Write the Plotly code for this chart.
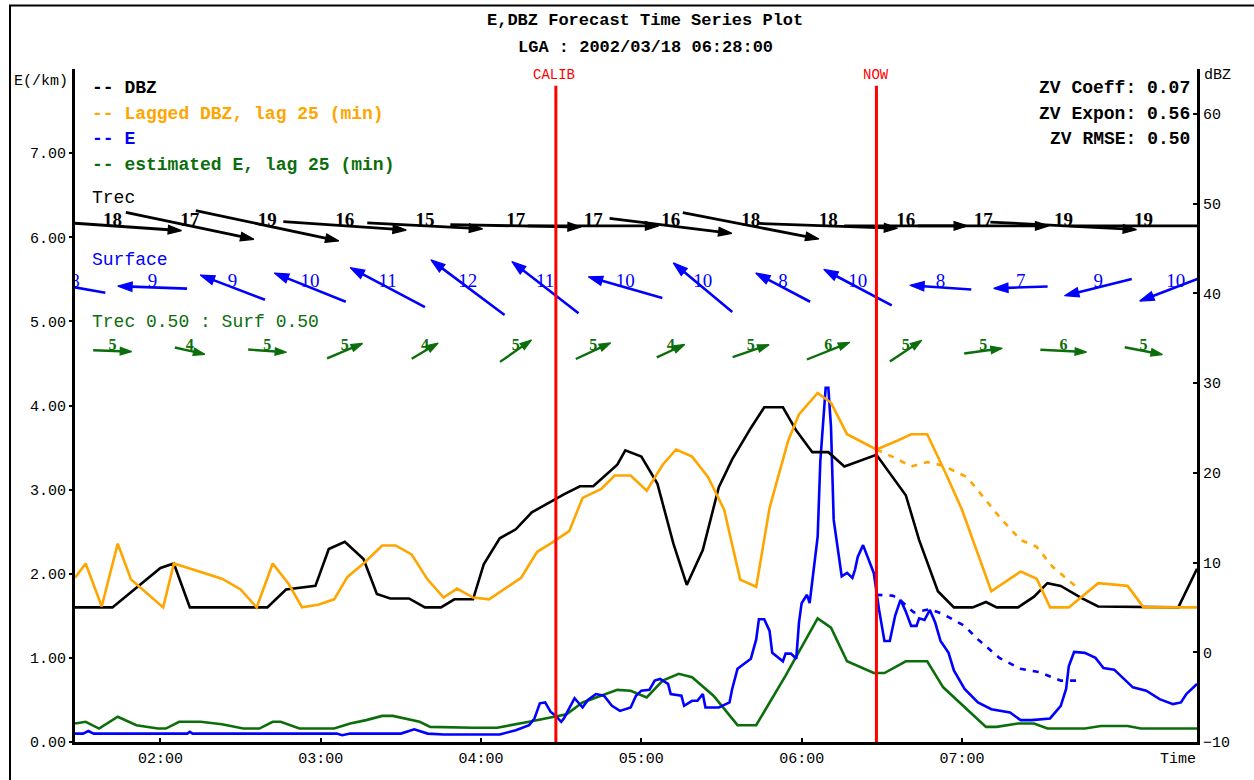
import math
import pandas as pd
import plotly.graph_objects as go

DAY = "2002-03-18 "

# ---- radar reflectivity (dBZ, right axis) ----
dbz_time = ["01:28", "01:42", "02:00", "02:05", "02:11", "02:40", "02:47", "02:58", "03:03", "03:09",
            "03:16", "03:21", "03:26", "03:33", "03:39", "03:45", "03:50", "03:57", "04:01", "04:07",
            "04:13", "04:19", "04:25", "04:31", "04:37", "04:42", "04:51", "04:54", "05:00", "05:06",
            "05:12", "05:17", "05:23", "05:29", "05:34", "05:41", "05:46", "05:53", "05:58", "06:04",
            "06:10", "06:16", "06:28", "06:33", "06:39", "06:44", "06:51", "06:57", "07:04", "07:09",
            "07:13", "07:21", "07:27", "07:32", "07:37", "07:45", "07:51", "08:21", "08:28"]
dbz_val = [5.0, 5.0, 9.4, 9.9, 5.0, 5.0, 7.0, 7.4, 11.5, 12.3,
           10.4, 6.5, 6.0, 6.0, 5.0, 5.0, 5.9, 5.9, 9.8, 12.7,
           13.7, 15.6, 16.6, 17.6, 18.5, 18.5, 20.9, 22.5, 21.8, 18.8,
           12.1, 7.5, 11.4, 18.4, 21.5, 25.0, 27.3, 27.3, 24.7, 22.3,
           22.3, 20.7, 22.0, 19.9, 17.5, 12.5, 6.8, 5.0, 5.0, 5.6,
           5.0, 5.0, 6.2, 7.7, 7.4, 6.0, 5.1, 5.0, 9.3]

lag_time = ["01:28", "01:32", "01:38", "01:44", "01:49", "02:01", "02:05", "02:23", "02:30", "02:36",
            "02:42", "02:48", "02:53", "02:59", "03:05", "03:10", "03:16", "03:23", "03:28", "03:34",
            "03:40", "03:46", "03:51", "03:57", "04:03", "04:15", "04:21", "04:26", "04:33", "04:38",
            "04:45", "04:50", "04:56", "05:02", "05:08", "05:13", "05:19", "05:25", "05:31", "05:37",
            "05:43", "05:48", "05:55", "05:59", "06:06", "06:11", "06:17", "06:28", "06:36", "06:41",
            "06:47", "06:54", "07:00", "07:06", "07:11", "07:22", "07:28", "07:33", "07:40", "07:51",
            "08:02", "08:08", "08:28"]
lag_val = [8.3, 9.9, 5.1, 12.1, 8.1, 5.0, 9.9, 8.2, 7.0, 5.0,
           9.9, 7.6, 5.0, 5.3, 5.9, 8.4, 9.9, 11.9, 11.9, 10.9,
           8.1, 6.1, 7.1, 6.1, 5.9, 8.3, 11.2, 12.1, 13.5, 17.2,
           18.2, 19.7, 19.7, 18.0, 20.9, 22.6, 21.8, 19.5, 15.9, 8.1,
           7.3, 16.1, 23.6, 26.5, 28.9, 27.8, 24.3, 22.6, 23.6, 24.3,
           24.3, 19.9, 15.9, 11.0, 6.8, 9.0, 8.2, 5.0, 5.0, 7.7,
           7.4, 5.0, 5.0]

lag_fc_time = ["06:28", "06:36", "06:41", "06:47", "06:53", "07:02", "07:08", "07:14", "07:22",
               "07:28", "07:34", "07:43"]
lag_fc_val = [22.6, 21.5, 20.7, 21.2, 20.8, 19.5, 17.3, 15.1, 12.5, 11.75, 9.5, 7.25]

# ---- extinction E (1/km, left axis) ----
e_time = ["01:28", "01:31", "01:33", "01:35", "02:10", "02:11", "02:12", "03:06", "03:08", "03:11",
          "03:30", "03:35", "03:40", "03:46", "04:07", "04:13", "04:18", "04:20", "04:22", "04:24",
          "04:26", "04:28", "04:30", "04:31", "04:35", "04:38", "04:40", "04:43", "04:46", "04:49",
          "04:52", "04:56", "04:58", "05:00", "05:03", "05:05", "05:07", "05:10", "05:11", "05:15",
          "05:16", "05:19", "05:21", "05:23", "05:24", "05:29", "05:33", "05:34", "05:36", "05:39",
          "05:41", "05:43", "05:44", "05:46", "05:48", "05:49", "05:53", "05:54", "05:56", "05:58",
          "05:59", "06:00", "06:02", "06:03", "06:04", "06:06", "06:07", "06:09", "06:10", "06:11",
          "06:12", "06:14", "06:15", "06:17", "06:19", "06:20", "06:21", "06:23", "06:25", "06:27",
          "06:28", "06:29", "06:31", "06:33", "06:35", "06:37", "06:39", "06:41", "06:43", "06:44",
          "06:46", "06:48", "06:50", "06:52", "06:55", "06:57", "07:01", "07:06", "07:11", "07:18",
          "07:22", "07:26", "07:33", "07:37", "07:39", "07:40", "07:42", "07:46", "07:50", "07:53",
          "07:57", "08:00", "08:04", "08:09", "08:14", "08:19", "08:22", "08:24", "08:28"]
e_val = [0.10, 0.10, 0.13, 0.10, 0.10, 0.12, 0.10, 0.10, 0.08, 0.10,
         0.10, 0.15, 0.10, 0.09, 0.09, 0.14, 0.20, 0.28, 0.46, 0.47,
         0.36, 0.31, 0.24, 0.28, 0.52, 0.41, 0.50, 0.57, 0.55, 0.43,
         0.37, 0.41, 0.55, 0.61, 0.62, 0.73, 0.75, 0.69, 0.57, 0.55,
         0.43, 0.49, 0.49, 0.57, 0.41, 0.41, 0.47, 0.63, 0.87, 0.94,
         0.99, 1.22, 1.46, 1.46, 1.32, 1.06, 0.96, 1.05, 1.05, 0.99,
         1.42, 1.65, 1.75, 1.65, 1.93, 2.44, 3.34, 4.21, 4.21, 3.74,
         2.64, 2.20, 1.97, 2.01, 1.95, 2.05, 2.20, 2.34, 2.18, 2.01,
         1.79, 1.57, 1.20, 1.20, 1.50, 1.69, 1.55, 1.38, 1.38, 1.47,
         1.45, 1.57, 1.42, 1.20, 1.06, 0.85, 0.63, 0.47, 0.39, 0.35,
         0.26, 0.26, 0.28, 0.43, 0.63, 0.90, 1.07, 1.06, 1.00, 0.88,
         0.86, 0.77, 0.65, 0.61, 0.51, 0.45, 0.47, 0.57, 0.69]

e_fc_time = ["06:28", "06:34", "06:36", "06:42", "06:48", "06:53", "07:01", "07:06", "07:14",
             "07:22", "07:29", "07:37", "07:43"]
e_fc_val = [1.75, 1.74, 1.71, 1.54, 1.58, 1.52, 1.38, 1.22, 1.00, 0.87, 0.83, 0.73, 0.73]

est_time = ["01:28", "01:32", "01:37", "01:44", "01:51", "01:59", "02:02", "02:07", "02:15", "02:23",
            "02:31", "02:37", "02:42", "02:45", "02:52", "03:05", "03:11", "03:17", "03:23", "03:27",
            "03:37", "03:41", "03:57", "04:06", "04:18", "04:28", "04:32", "04:38", "04:45", "04:51",
            "04:56", "05:02", "05:08", "05:14", "05:19", "05:27", "05:36", "05:43", "05:54", "06:06",
            "06:11", "06:17", "06:27", "06:31", "06:39", "06:47", "06:53", "07:01", "07:09", "07:13",
            "07:21", "07:27", "07:32", "07:46", "07:52", "08:02", "08:07", "08:28"]
est_val = [0.22, 0.24, 0.16, 0.30, 0.20, 0.16, 0.16, 0.24, 0.24, 0.21,
           0.16, 0.16, 0.24, 0.24, 0.16, 0.16, 0.22, 0.26, 0.31, 0.31,
           0.24, 0.18, 0.17, 0.17, 0.24, 0.30, 0.33, 0.47, 0.55, 0.62,
           0.61, 0.53, 0.73, 0.81, 0.77, 0.55, 0.20, 0.20, 0.79, 1.47,
           1.36, 0.96, 0.82, 0.82, 0.96, 0.96, 0.65, 0.41, 0.18, 0.18,
           0.22, 0.22, 0.16, 0.16, 0.19, 0.19, 0.16, 0.16]

# ---- wind vectors: speed and heading (degrees clockwise from north) ----
trec_time = ["01:42", "02:11", "02:40", "03:09", "03:39", "04:13", "04:42", "05:11", "05:41", "06:10",
             "06:39", "07:08", "07:38", "08:08"]
trec_speed = [18, 17, 19, 16, 15, 17, 17, 16, 18, 18, 16, 17, 19, 19]
trec_dir = [94, 102, 102, 94, 93, 91, 90, 97, 101, 92, 90, 90, 93, 90]

sfc_time = ["01:28", "01:57", "02:27", "02:56", "03:25", "03:55", "04:24", "04:54", "05:23", "05:53",
            "06:21", "06:52", "07:22", "07:51", "08:20"]
sfc_speed = [8, 9, 9, 10, 11, 12, 11, 10, 10, 8, 10, 8, 7, 9, 10]
sfc_dir = [280, 272, 291, 292, 298, 307, 308, 286, 310, 298, 298, 274, 268, 256, 249]

mix_time = trec_time
mix_speed = [5, 4, 5, 5, 4, 5, 5, 4, 5, 6, 5, 5, 6, 5]
mix_dir = [92, 103, 94, 67, 59, 55, 65, 65, 71, 68, 56, 82, 93, 101]

# ---- canvas / plot-area geometry ----
W, H = 1254, 780
PL, PR, PT, PB = 75, 1197, 69, 747
T0, T1 = pd.Timestamp(DAY + "01:28"), pd.Timestamp(DAY + "08:28")
E_RANGE = [0, 8]
DBZ_RANGE = [-10, 65]
PX_PER_MIN = (PR - PL) / ((T1 - T0).total_seconds() / 60)
PX_PER_E = (PB - PT) / (E_RANGE[1] - E_RANGE[0])
VEC_SCALE = 7.7  # pixels per unit speed

MONO = "Liberation Mono"
SERIF = "Liberation Serif"
BLACK, ORANGE, BLUE, GREEN, RED = "#000000", "#FFA500", "#0000FF", "#0B6E0B", "#FF0000"


def t(lst):
    return pd.to_datetime([DAY + s for s in lst])


def pxx(x):
    return (x - PL) / (PR - PL)


def pxy(y):
    return (PB - y) / (PB - PT)


def e_at(y):
    return (PB - y) / PX_PER_E


fig = go.Figure()

fig.add_trace(go.Scatter(x=t(dbz_time), y=dbz_val, yaxis="y2", mode="lines",
                         line=dict(color=BLACK, width=2.6), name="DBZ"))
fig.add_trace(go.Scatter(x=t(lag_time), y=lag_val, yaxis="y2", mode="lines",
                         line=dict(color=ORANGE, width=2.6), name="Lagged DBZ"))
fig.add_trace(go.Scatter(x=t(lag_fc_time), y=lag_fc_val, yaxis="y2", mode="lines",
                         line=dict(color=ORANGE, width=2.6, dash="6px,7px"), name="Lagged DBZ fc"))
fig.add_trace(go.Scatter(x=t(est_time), y=est_val, mode="lines",
                         line=dict(color=GREEN, width=2.6), name="estimated E"))
fig.add_trace(go.Scatter(x=t(e_time), y=e_val, mode="lines",
                         line=dict(color=BLUE, width=2.6), name="E"))
fig.add_trace(go.Scatter(x=t(e_fc_time), y=e_fc_val, mode="lines",
                         line=dict(color=BLUE, width=2.6, dash="6px,7px"), name="E fc"))


def add_vectors(times, speeds, dirs, row_y, color, width, head, fsize, bold):
    yc = e_at(row_y)
    xs, ys, sizes = [], [], []
    for tc, s, d in zip(t(times), speeds, dirs):
        half = VEC_SCALE * s / 2
        dmin = half * math.sin(math.radians(d)) / PX_PER_MIN
        de = half * math.cos(math.radians(d)) / PX_PER_E
        off = pd.Timedelta(minutes=dmin)
        xs += [tc - off, tc + off, None]
        ys += [yc - de, yc + de, None]
        sizes += [0, head, 0]
    fig.add_trace(go.Scatter(x=xs, y=ys, mode="lines+markers", cliponaxis=True,
                             line=dict(color=color, width=width),
                             marker=dict(symbol="arrow", angleref="previous", size=sizes,
                                         color=color, opacity=1,
                                         line=dict(width=1.2, color=color)),
                             hoverinfo="skip"))
    fig.add_trace(go.Scatter(x=t(times), y=[yc + 5 / PX_PER_E] * len(times), mode="text",
                             cliponaxis=True, text=[str(s) for s in speeds],
                             textfont=dict(family=SERIF, size=fsize, color=color,
                                           weight="bold" if bold else "normal"),
                             hoverinfo="skip"))


add_vectors(trec_time, trec_speed, trec_dir, 227, BLACK, 2.8, 14, 19, True)
add_vectors(sfc_time, sfc_speed, sfc_dir, 289, BLUE, 2.6, 15, 19, False)
add_vectors(mix_time, mix_speed, mix_dir, 353, GREEN, 2.4, 12, 16, True)

# calibration / current-time markers
for tm in ["04:28", "06:28"]:
    fig.add_shape(type="line", xref="x", yref="paper", x0=t([tm])[0], x1=t([tm])[0],
                  y0=0, y1=pxy(86), line=dict(color=RED, width=3))

# outer frame
fig.add_shape(type="rect", xref="paper", yref="paper", x0=pxx(10), x1=pxx(1262),
              y0=pxy(795), y1=pxy(5), line=dict(color=BLACK, width=2), layer="below")

ann = []


def label(text, x, y, color=BLACK, size=18, xanchor="left", bold=True, family=MONO):
    ann.append(dict(text=text, x=pxx(x), y=pxy(y), xref="paper", yref="paper",
                    xanchor=xanchor, yanchor="middle", showarrow=False,
                    font=dict(family=family, size=size, color=color,
                              weight="bold" if bold else "normal")))


label("E,DBZ Forecast Time Series Plot", 645, 20, size=17, xanchor="center")
label("LGA : 2002/03/18 06:28:00", 645, 47, size=17, xanchor="center")
label("-- DBZ", 90, 88)
label("-- Lagged DBZ, lag 25 (min)", 90, 114, color=ORANGE)
label("-- E", 90, 140, color=BLUE)
label("-- estimated E, lag 25 (min)", 90, 166, color=GREEN)
label("ZV Coeff: 0.07", 1192, 88, xanchor="right")
label("ZV Expon: 0.56", 1192, 114, xanchor="right")
label("ZV RMSE: 0.50", 1192, 140, xanchor="right")
label("Trec", 90, 199, bold=False)
label("Surface", 90, 261, color=BLUE, bold=False)
label("Trec 0.50 : Surf 0.50", 90, 324, color=GREEN, bold=False)
label("CALIB", 554, 75, color=RED, size=14, xanchor="center", bold=False)
label("NOW", 876, 75, color=RED, size=14, xanchor="center", bold=False)
label("E(/km)", 70, 82, size=15, xanchor="right", bold=False)
label("dBZ", 1202, 76, size=15, bold=False)
label("Time", 1198, 765, size=15, xanchor="right", bold=False)

tick_font = dict(family=MONO, size=15, color=BLACK)
hours = ["02:00", "03:00", "04:00", "05:00", "06:00", "07:00"]

fig.update_layout(
    width=W, height=H, margin=dict(l=PL, r=W - PR, t=PT, b=H - PB),
    paper_bgcolor="white", plot_bgcolor="white", showlegend=False,
    annotations=ann,
    xaxis=dict(type="date", range=[T0, T1], showgrid=False, zeroline=False,
               showline=True, linecolor=BLACK, linewidth=3,
               ticks="inside", ticklen=4, tickwidth=2, tickcolor=BLACK,
               tickvals=t(hours), ticktext=hours, tickfont=tick_font),
    yaxis=dict(range=E_RANGE, showgrid=False, zeroline=False,
               showline=True, linecolor=BLACK, linewidth=3,
               ticks="outside", ticklen=3, tickwidth=2, tickcolor=BLACK,
               tickvals=list(range(0, 8)), ticktext=[f"{v}.00" for v in range(0, 8)],
               tickfont=tick_font),
    yaxis2=dict(range=DBZ_RANGE, overlaying="y", side="right", showgrid=False, zeroline=False,
                showline=True, linecolor=BLACK, linewidth=3,
                ticks="inside", ticklen=4, tickwidth=2, tickcolor=BLACK,
                tickvals=list(range(-10, 61, 10)), tickfont=tick_font),
)

fig.write_html("out.html")
